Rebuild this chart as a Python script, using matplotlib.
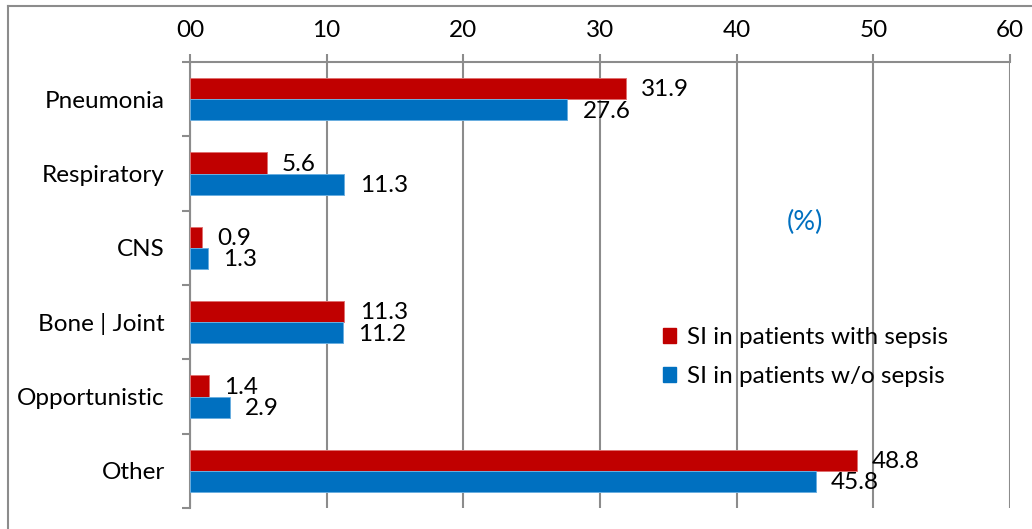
import numpy as np
import matplotlib
matplotlib.use("Agg")
import matplotlib.pyplot as plt
from matplotlib.lines import Line2D

plt.rcParams['font.family'] = ['Lato', 'DejaVu Sans']

categories = ["Pneumonia", "Respiratory", "CNS", "Bone | Joint", "Opportunistic", "Other"]
with_sepsis = [31.9, 5.6, 0.9, 11.3, 1.4, 48.8]
without_sepsis = [27.6, 11.3, 1.3, 11.2, 2.9, 45.8]
tick_values = [0, 10, 20, 30, 40, 50, 60]
tick_labels = ["00", "10", "20", "30", "40", "50", "60"]

RED = "#C00000"
BLUE = "#0070C0"
GRID = "#8c8c8c"
FS = 17.5

fig = plt.figure(figsize=(10.32, 5.29), dpi=100)
ax = fig.add_axes([190 / 1032, 1 - 508 / 529, 820 / 1032, 446 / 529])

y = np.arange(len(categories))
h = 0.285
ax.barh(y - h / 2, with_sepsis, height=h, color=RED, edgecolor="#e07070",
        linewidth=0.7, label="SI in patients with sepsis", zorder=3)
ax.barh(y + h / 2, without_sepsis, height=h, color=BLUE, edgecolor="#6aaee0",
        linewidth=0.7, label="SI in patients w/o sepsis", zorder=3)

for yi, v in zip(y, with_sepsis):
    ax.annotate(f"{v:.1f}", (v, yi - h / 2), xytext=(11, -1), textcoords="offset points",
                ha="left", va="center", fontsize=FS, color="black")
for yi, v in zip(y, without_sepsis):
    ax.annotate(f"{v:.1f}", (v, yi + h / 2), xytext=(11, -1), textcoords="offset points",
                ha="left", va="center", fontsize=FS, color="black")

ax.set_xlim(0, 60)
ax.set_ylim(len(categories) - 0.5, -0.5)

# x axis on top
ax.xaxis.tick_top()
ax.set_xticks(tick_values)
ax.set_xticklabels(tick_labels, fontsize=FS)
ax.tick_params(axis="x", direction="out", length=6, width=1.5, color=GRID, pad=9)
ax.grid(axis="x", color=GRID, linewidth=1.5, zorder=0)

# category labels between boundary ticks
ax.set_yticks(y)
ax.set_yticklabels(categories, fontsize=FS)
ax.tick_params(axis="y", length=0, pad=18)
ax.set_yticks(np.arange(-0.5, len(categories), 1.0), minor=True)
ax.tick_params(axis="y", which="minor", direction="out", length=6, width=1.5, color=GRID)

for side in ["right", "bottom"]:
    ax.spines[side].set_visible(False)
ax.spines["left"].set_color(GRID)
ax.spines["left"].set_linewidth(1.5)
ax.spines["top"].set_color(GRID)
ax.spines["top"].set_linewidth(1.5)

ax.text(45.0, 1.66, "(%)", color=BLUE, fontsize=19.5, ha="center", va="center")

handles = [plt.Rectangle((0, 0), 1, 1, color=RED), plt.Rectangle((0, 0), 1, 1, color=BLUE)]
ax.legend(handles, ["SI in patients with sepsis", "SI in patients w/o sepsis"],
          loc="center left", bbox_to_anchor=(0.565, 0.338), frameon=False, fontsize=FS,
          handlelength=0.55, handleheight=0.55, handletextpad=0.45, labelspacing=0.75,
          borderaxespad=0)

# chart frame
fig.add_artist(Line2D([8 / 1032, 8 / 1032], [0, 1 - 6 / 529], color=GRID, lw=1.5))
fig.add_artist(Line2D([8 / 1032, 1], [1 - 6 / 529, 1 - 6 / 529], color=GRID, lw=1.5))

fig.savefig("out.png", dpi=100)
